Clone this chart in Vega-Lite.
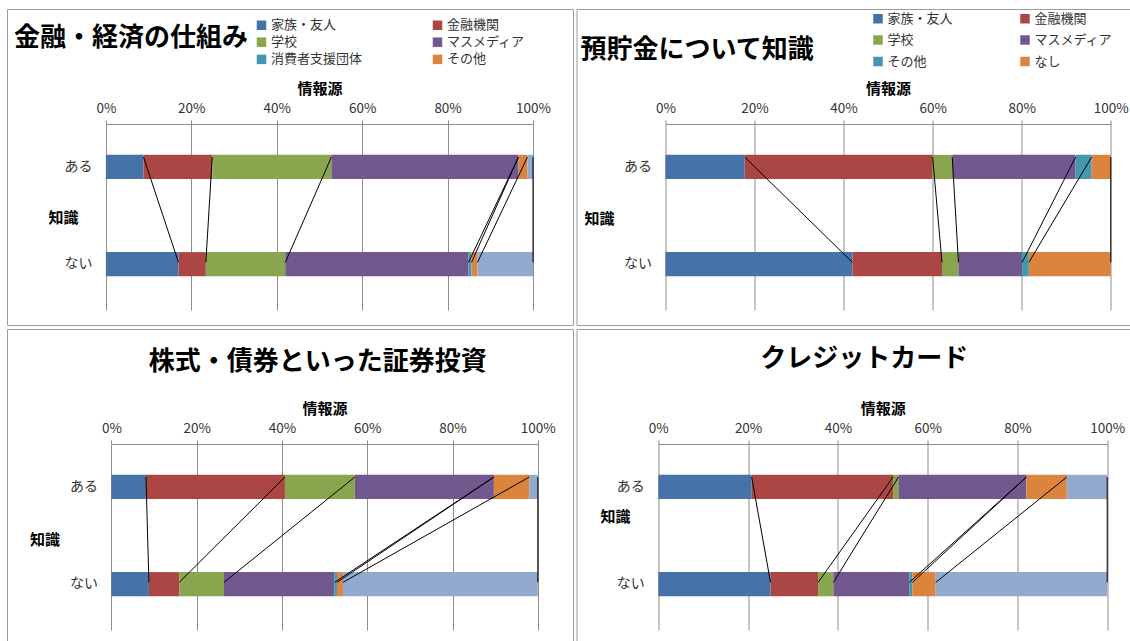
{
  "$schema": "https://vega.github.io/schema/vega-lite/v6.json",
  "padding": {"left": 6, "top": 8, "right": 0, "bottom": 0},
  "background": "white",
  "config": {
    "font": "Noto Sans CJK JP",
    "view": {"stroke": "#9c9c9c", "strokeWidth": 1, "fill": "white"}
  },
  "datasets": {
    "d": [
      {"panel": "P1", "know": "ある", "src": "家族・友人", "ord": 1, "pct": 8.8},
      {"panel": "P1", "know": "ある", "src": "金融機関", "ord": 2, "pct": 16.1},
      {"panel": "P1", "know": "ある", "src": "学校", "ord": 3, "pct": 27.9},
      {"panel": "P1", "know": "ある", "src": "マスメディア", "ord": 4, "pct": 43.8},
      {"panel": "P1", "know": "ある", "src": "消費者支援団体", "ord": 5, "pct": 0},
      {"panel": "P1", "know": "ある", "src": "その他", "ord": 6, "pct": 2.1},
      {"panel": "P1", "know": "ある", "src": "なし", "ord": 7, "pct": 1.3},
      {"panel": "P1", "know": "ない", "src": "家族・友人", "ord": 1, "pct": 17.0},
      {"panel": "P1", "know": "ない", "src": "金融機関", "ord": 2, "pct": 6.4},
      {"panel": "P1", "know": "ない", "src": "学校", "ord": 3, "pct": 18.6},
      {"panel": "P1", "know": "ない", "src": "マスメディア", "ord": 4, "pct": 42.9},
      {"panel": "P1", "know": "ない", "src": "消費者支援団体", "ord": 5, "pct": 0.7},
      {"panel": "P1", "know": "ない", "src": "その他", "ord": 6, "pct": 1.4},
      {"panel": "P1", "know": "ない", "src": "なし", "ord": 7, "pct": 13.0},
      {"panel": "P2", "know": "ある", "src": "家族・友人", "ord": 1, "pct": 17.8},
      {"panel": "P2", "know": "ある", "src": "金融機関", "ord": 2, "pct": 42.2},
      {"panel": "P2", "know": "ある", "src": "学校", "ord": 3, "pct": 4.4},
      {"panel": "P2", "know": "ある", "src": "マスメディア", "ord": 4, "pct": 27.7},
      {"panel": "P2", "know": "ある", "src": "その他", "ord": 5, "pct": 3.6},
      {"panel": "P2", "know": "ある", "src": "なし", "ord": 6, "pct": 4.3},
      {"panel": "P2", "know": "ない", "src": "家族・友人", "ord": 1, "pct": 42.0},
      {"panel": "P2", "know": "ない", "src": "金融機関", "ord": 2, "pct": 20.1},
      {"panel": "P2", "know": "ない", "src": "学校", "ord": 3, "pct": 3.7},
      {"panel": "P2", "know": "ない", "src": "マスメディア", "ord": 4, "pct": 14.3},
      {"panel": "P2", "know": "ない", "src": "その他", "ord": 5, "pct": 1.5},
      {"panel": "P2", "know": "ない", "src": "なし", "ord": 6, "pct": 18.4},
      {"panel": "P3", "know": "ある", "src": "家族・友人", "ord": 1, "pct": 8.1},
      {"panel": "P3", "know": "ある", "src": "金融機関", "ord": 2, "pct": 32.6},
      {"panel": "P3", "know": "ある", "src": "学校", "ord": 3, "pct": 16.4},
      {"panel": "P3", "know": "ある", "src": "マスメディア", "ord": 4, "pct": 32.6},
      {"panel": "P3", "know": "ある", "src": "消費者支援団体", "ord": 5, "pct": 0},
      {"panel": "P3", "know": "ある", "src": "その他", "ord": 6, "pct": 8.3},
      {"panel": "P3", "know": "ある", "src": "なし", "ord": 7, "pct": 2.0},
      {"panel": "P3", "know": "ない", "src": "家族・友人", "ord": 1, "pct": 8.8},
      {"panel": "P3", "know": "ない", "src": "金融機関", "ord": 2, "pct": 7.1},
      {"panel": "P3", "know": "ない", "src": "学校", "ord": 3, "pct": 10.5},
      {"panel": "P3", "know": "ない", "src": "マスメディア", "ord": 4, "pct": 25.9},
      {"panel": "P3", "know": "ない", "src": "消費者支援団体", "ord": 5, "pct": 0.6},
      {"panel": "P3", "know": "ない", "src": "その他", "ord": 6, "pct": 1.4},
      {"panel": "P3", "know": "ない", "src": "なし", "ord": 7, "pct": 45.7},
      {"panel": "P4", "know": "ある", "src": "家族・友人", "ord": 1, "pct": 20.8},
      {"panel": "P4", "know": "ある", "src": "金融機関", "ord": 2, "pct": 31.5},
      {"panel": "P4", "know": "ある", "src": "学校", "ord": 3, "pct": 1.2},
      {"panel": "P4", "know": "ある", "src": "マスメディア", "ord": 4, "pct": 28.5},
      {"panel": "P4", "know": "ある", "src": "消費者支援団体", "ord": 5, "pct": 0},
      {"panel": "P4", "know": "ある", "src": "その他", "ord": 6, "pct": 9.0},
      {"panel": "P4", "know": "ある", "src": "なし", "ord": 7, "pct": 9.0},
      {"panel": "P4", "know": "ない", "src": "家族・友人", "ord": 1, "pct": 25.0},
      {"panel": "P4", "know": "ない", "src": "金融機関", "ord": 2, "pct": 10.6},
      {"panel": "P4", "know": "ない", "src": "学校", "ord": 3, "pct": 3.4},
      {"panel": "P4", "know": "ない", "src": "マスメディア", "ord": 4, "pct": 16.9},
      {"panel": "P4", "know": "ない", "src": "消費者支援団体", "ord": 5, "pct": 0.7},
      {"panel": "P4", "know": "ない", "src": "その他", "ord": 6, "pct": 5.2},
      {"panel": "P4", "know": "ない", "src": "なし", "ord": 7, "pct": 38.2}
    ]
  },
  "spacing": 2,
  "resolve": {"scale": {"color": "independent"}, "legend": {"color": "independent"}},
  "vconcat": [
    {
      "spacing": 1.5,
      "resolve": {"scale": {"color": "independent"}, "legend": {"color": "independent"}},
      "hconcat": [
        {
          "width": 566, "height": 316,
          "data": {"name": "d"},
          "transform": [{"filter": "datum.panel === 'P1'"}],
          "title": {"text": "金融・経済の仕組み", "fontSize": 26, "fontWeight": "bold", "anchor": "start", "frame": "group", "orient": "top", "offset": -42, "dx": 7, "color": "black"},
          "resolve": {"scale": {"y": "independent"}, "axis": {"x": "independent", "y": "independent"}},
          "layer": [
            {
              "mark": {"type": "bar"},
              "encoding": {
                "x": {"field": "pct", "type": "quantitative", "stack": "zero",
                  "scale": {"domain": [0, 100], "range": [98.9, 526], "nice": false, "zero": false},
                  "axis": {"orient": "top", "offset": -115, "values": [0, 20, 40, 60, 80, 100], "labelExpr": "datum.value + '%'", "grid": false, "domain": true, "domainColor": "#8c8c8c", "ticks": true, "tickSize": 4, "tickColor": "#8c8c8c", "labelFontSize": 13.5, "labelColor": "#333333", "labelPadding": 5, "labelFlush": false, "labelOverlap": false, "title": "情報源", "titleFontSize": 15, "titleFontWeight": "bold", "titleColor": "black", "titlePadding": 5}},
                "y": {"field": "know", "type": "nominal",
                  "scale": {"domain": ["ある", "ない"], "paddingInner": 0.7514, "paddingOuter": 1.0838, "align": 0.7496},
                  "axis": {"orient": "left", "offset": -98.9, "domain": false, "ticks": false, "labelPadding": 14, "labelFontSize": 14, "labelColor": "#333333", "title": "知識", "titleAngle": 0, "titleX": -58, "titleY": 208, "titleAlign": "left", "titleBaseline": "middle", "titleFontSize": 15, "titleFontWeight": "bold", "titleColor": "black"}},
                "color": {"field": "src", "type": "nominal",
                  "scale": {"domain": ["家族・友人", "金融機関", "学校", "マスメディア", "消費者支援団体", "その他", "なし"], "range": ["#4572A7", "#AA4643", "#89A54E", "#71588F", "#4198AF", "#DB843D", "#93A9CF"]},
                  "legend": {"orient": "none", "legendX": 248, "legendY": 9.5, "direction": "horizontal", "columns": 2, "values": ["家族・友人", "金融機関", "学校", "マスメディア", "消費者支援団体", "その他"], "title": null, "symbolType": "square", "symbolSize": 90, "symbolStrokeWidth": 0, "labelFontSize": 13, "labelColor": "#333333", "labelOffset": 3, "rowPadding": 3.2, "columnPadding": 68, "gridAlign": "each", "padding": 0, "labelLimit": 0}},
                "order": {"field": "ord", "type": "quantitative"}
              }
            },
            {
              "transform": [{"stack": "pct", "groupby": ["know"], "sort": [{"field": "ord", "order": "ascending"}], "as": ["s0", "s1"]}],
              "mark": {"type": "line", "color": "black", "strokeWidth": 1},
              "encoding": {
                "x": {"field": "s1", "type": "quantitative",
                  "scale": {"domain": [0, 100], "range": [98.9, 526], "nice": false, "zero": false},
                  "axis": {"orient": "bottom", "offset": -15, "values": [0, 20, 40, 60, 80, 100], "labels": false, "domain": false, "grid": false, "ticks": true, "tickSize": -186, "tickColor": "#8c8c8c", "title": null}},
                "y": {"field": "know", "type": "nominal",
                  "scale": {"type": "point", "domain": ["ある", "ない"], "padding": 1.777, "align": 0.7028}, "axis": null},
                "detail": {"field": "src"}
              }
            }
          ]
        },
        {
          "width": 566, "height": 316,
          "data": {"name": "d"},
          "transform": [{"filter": "datum.panel === 'P2'"}],
          "title": {"text": "預貯金について知識", "fontSize": 26, "fontWeight": "bold", "anchor": "start", "frame": "group", "orient": "top", "offset": -54, "dx": 4, "color": "black"},
          "resolve": {"scale": {"y": "independent"}, "axis": {"x": "independent", "y": "independent"}},
          "layer": [
            {
              "mark": {"type": "bar"},
              "encoding": {
                "x": {"field": "pct", "type": "quantitative", "stack": "zero",
                  "scale": {"domain": [0, 100], "range": [88.9, 534.3], "nice": false, "zero": false},
                  "axis": {"orient": "top", "offset": -115, "values": [0, 20, 40, 60, 80, 100], "labelExpr": "datum.value + '%'", "grid": false, "domain": true, "domainColor": "#8c8c8c", "ticks": true, "tickSize": 4, "tickColor": "#8c8c8c", "labelFontSize": 13.5, "labelColor": "#333333", "labelPadding": 5, "labelFlush": false, "labelOverlap": false, "title": "情報源", "titleFontSize": 15, "titleFontWeight": "bold", "titleColor": "black", "titlePadding": 5}},
                "y": {"field": "know", "type": "nominal",
                  "scale": {"domain": ["ある", "ない"], "paddingInner": 0.7514, "paddingOuter": 1.0838, "align": 0.7496},
                  "axis": {"orient": "left", "offset": -88.9, "domain": false, "ticks": false, "labelPadding": 14, "labelFontSize": 14, "labelColor": "#333333", "title": "知識", "titleAngle": 0, "titleX": -81.4, "titleY": 209, "titleAlign": "left", "titleBaseline": "middle", "titleFontSize": 15, "titleFontWeight": "bold", "titleColor": "black"}},
                "color": {"field": "src", "type": "nominal",
                  "scale": {"domain": ["家族・友人", "金融機関", "学校", "マスメディア", "その他", "なし"], "range": ["#4572A7", "#AA4643", "#89A54E", "#71588F", "#4198AF", "#DB843D"]},
                  "legend": {"orient": "none", "legendX": 295, "legendY": 3, "direction": "horizontal", "columns": 2, "title": null, "symbolType": "square", "symbolSize": 90, "symbolStrokeWidth": 0, "labelFontSize": 13, "labelColor": "#333333", "labelOffset": 3, "rowPadding": 7.5, "columnPadding": 65, "gridAlign": "each", "padding": 0, "labelLimit": 0}},
                "order": {"field": "ord", "type": "quantitative"}
              }
            },
            {
              "transform": [{"stack": "pct", "groupby": ["know"], "sort": [{"field": "ord", "order": "ascending"}], "as": ["s0", "s1"]}],
              "mark": {"type": "line", "color": "black", "strokeWidth": 1},
              "encoding": {
                "x": {"field": "s1", "type": "quantitative",
                  "scale": {"domain": [0, 100], "range": [88.9, 534.3], "nice": false, "zero": false},
                  "axis": {"orient": "bottom", "offset": -15, "values": [0, 20, 40, 60, 80, 100], "labels": false, "domain": false, "grid": false, "ticks": true, "tickSize": -186, "tickColor": "#8c8c8c", "title": null}},
                "y": {"field": "know", "type": "nominal",
                  "scale": {"type": "point", "domain": ["ある", "ない"], "padding": 1.777, "align": 0.7028}, "axis": null},
                "detail": {"field": "src"}
              }
            }
          ]
        }
      ]
    },
    {
      "spacing": 1.5,
      "resolve": {"scale": {"color": "independent"}, "legend": {"color": "independent"}},
      "hconcat": [
        {
          "width": 566, "height": 316,
          "data": {"name": "d"},
          "transform": [{"filter": "datum.panel === 'P3'"}],
          "title": {"text": "株式・債券といった証券投資", "fontSize": 26, "fontWeight": "bold", "anchor": "middle", "frame": "group", "orient": "top", "offset": -46, "dx": 27.7, "color": "black"},
          "resolve": {"scale": {"y": "independent"}, "axis": {"x": "independent", "y": "independent"}},
          "layer": [
            {
              "mark": {"type": "bar"},
              "encoding": {
                "x": {"field": "pct", "type": "quantitative", "stack": "zero",
                  "scale": {"domain": [0, 100], "range": [104.4, 530.8], "nice": false, "zero": false},
                  "axis": {"orient": "top", "offset": -115, "values": [0, 20, 40, 60, 80, 100], "labelExpr": "datum.value + '%'", "grid": false, "domain": true, "domainColor": "#8c8c8c", "ticks": true, "tickSize": 4, "tickColor": "#8c8c8c", "labelFontSize": 13.5, "labelColor": "#333333", "labelPadding": 5, "labelFlush": false, "labelOverlap": false, "title": "情報源", "titleFontSize": 15, "titleFontWeight": "bold", "titleColor": "black", "titlePadding": 5}},
                "y": {"field": "know", "type": "nominal",
                  "scale": {"domain": ["ある", "ない"], "paddingInner": 0.7514, "paddingOuter": 1.0838, "align": 0.7496},
                  "axis": {"orient": "left", "offset": -104.4, "domain": false, "ticks": false, "labelPadding": 14, "labelFontSize": 14, "labelColor": "#333333", "title": "知識", "titleAngle": 0, "titleX": -81.8, "titleY": 210, "titleAlign": "left", "titleBaseline": "middle", "titleFontSize": 15, "titleFontWeight": "bold", "titleColor": "black"}},
                "color": {"field": "src", "type": "nominal",
                  "scale": {"domain": ["家族・友人", "金融機関", "学校", "マスメディア", "消費者支援団体", "その他", "なし"], "range": ["#4572A7", "#AA4643", "#89A54E", "#71588F", "#4198AF", "#DB843D", "#93A9CF"]},
                  "legend": null},
                "order": {"field": "ord", "type": "quantitative"}
              }
            },
            {
              "transform": [{"stack": "pct", "groupby": ["know"], "sort": [{"field": "ord", "order": "ascending"}], "as": ["s0", "s1"]}],
              "mark": {"type": "line", "color": "black", "strokeWidth": 1},
              "encoding": {
                "x": {"field": "s1", "type": "quantitative",
                  "scale": {"domain": [0, 100], "range": [104.4, 530.8], "nice": false, "zero": false},
                  "axis": {"orient": "bottom", "offset": -15, "values": [0, 20, 40, 60, 80, 100], "labels": false, "domain": false, "grid": false, "ticks": true, "tickSize": -186, "tickColor": "#8c8c8c", "title": null}},
                "y": {"field": "know", "type": "nominal",
                  "scale": {"type": "point", "domain": ["ある", "ない"], "padding": 1.777, "align": 0.7028}, "axis": null},
                "detail": {"field": "src"}
              }
            }
          ]
        },
        {
          "width": 566, "height": 316,
          "data": {"name": "d"},
          "transform": [{"filter": "datum.panel === 'P4'"}],
          "title": {"text": "クレジットカード", "fontSize": 26, "fontWeight": "bold", "anchor": "middle", "frame": "group", "orient": "top", "offset": -43, "dx": 4.8, "color": "black"},
          "resolve": {"scale": {"y": "independent"}, "axis": {"x": "independent", "y": "independent"}},
          "layer": [
            {
              "mark": {"type": "bar"},
              "encoding": {
                "x": {"field": "pct", "type": "quantitative", "stack": "zero",
                  "scale": {"domain": [0, 100], "range": [81.8, 530.7], "nice": false, "zero": false},
                  "axis": {"orient": "top", "offset": -115, "values": [0, 20, 40, 60, 80, 100], "labelExpr": "datum.value + '%'", "grid": false, "domain": true, "domainColor": "#8c8c8c", "ticks": true, "tickSize": 4, "tickColor": "#8c8c8c", "labelFontSize": 13.5, "labelColor": "#333333", "labelPadding": 5, "labelFlush": false, "labelOverlap": false, "title": "情報源", "titleFontSize": 15, "titleFontWeight": "bold", "titleColor": "black", "titlePadding": 5}},
                "y": {"field": "know", "type": "nominal",
                  "scale": {"domain": ["ある", "ない"], "paddingInner": 0.7514, "paddingOuter": 1.0838, "align": 0.7496},
                  "axis": {"orient": "left", "offset": -81.8, "domain": false, "ticks": false, "labelPadding": 14, "labelFontSize": 14, "labelColor": "#333333", "title": "知識", "titleAngle": 0, "titleX": -58.2, "titleY": 187, "titleAlign": "left", "titleBaseline": "middle", "titleFontSize": 15, "titleFontWeight": "bold", "titleColor": "black"}},
                "color": {"field": "src", "type": "nominal",
                  "scale": {"domain": ["家族・友人", "金融機関", "学校", "マスメディア", "消費者支援団体", "その他", "なし"], "range": ["#4572A7", "#AA4643", "#89A54E", "#71588F", "#4198AF", "#DB843D", "#93A9CF"]},
                  "legend": null},
                "order": {"field": "ord", "type": "quantitative"}
              }
            },
            {
              "transform": [{"stack": "pct", "groupby": ["know"], "sort": [{"field": "ord", "order": "ascending"}], "as": ["s0", "s1"]}],
              "mark": {"type": "line", "color": "black", "strokeWidth": 1},
              "encoding": {
                "x": {"field": "s1", "type": "quantitative",
                  "scale": {"domain": [0, 100], "range": [81.8, 530.7], "nice": false, "zero": false},
                  "axis": {"orient": "bottom", "offset": -15, "values": [0, 20, 40, 60, 80, 100], "labels": false, "domain": false, "grid": false, "ticks": true, "tickSize": -186, "tickColor": "#8c8c8c", "title": null}},
                "y": {"field": "know", "type": "nominal",
                  "scale": {"type": "point", "domain": ["ある", "ない"], "padding": 1.777, "align": 0.7028}, "axis": null},
                "detail": {"field": "src"}
              }
            }
          ]
        }
      ]
    }
  ]
}
